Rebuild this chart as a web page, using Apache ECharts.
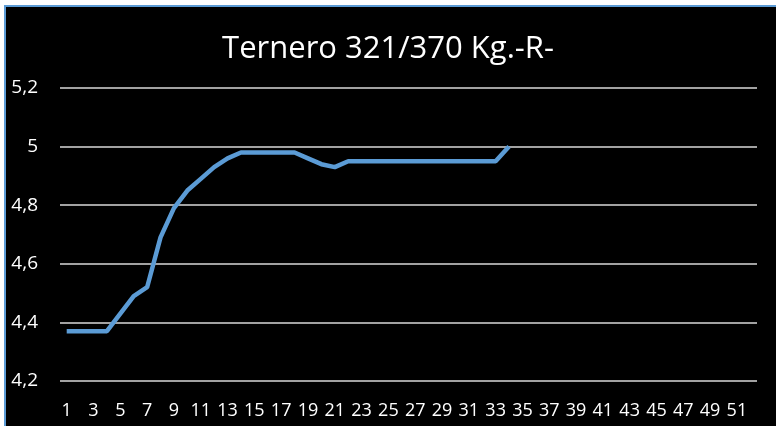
<!DOCTYPE html>
<html>
<head>
<meta charset="utf-8">
<script src="https://cdn.jsdelivr.net/npm/echarts@6/dist/echarts.min.js"></script>
<style>
  html, body { margin: 0; padding: 0; background: #fff; overflow: hidden; }
  #frame {
    position: absolute; left: 4px; top: 5px; width: 800px; height: 450px;
    border-top: 2px solid #5b9bd5; border-left: 2px solid #5b9bd5;
    background: #000;
  }
  #container { position: absolute; left: 0; top: 0; width: 776px; height: 426px; }
</style>
</head>
<body>
<div id="frame"></div>
<div id="container"></div>
<script>
// weeks 1..52
var weeks = [];
for (var i = 1; i <= 52; i++) weeks.push(String(i));

// precio por kg (weeks 1..34)
var prices = [4.37, 4.37, 4.37, 4.37, 4.43, 4.49, 4.52, 4.69, 4.79, 4.85,
  4.89, 4.93, 4.96, 4.98, 4.98, 4.98, 4.98, 4.98, 4.96, 4.94,
  4.93, 4.95, 4.95, 4.95, 4.95, 4.95, 4.95, 4.95, 4.95, 4.95,
  4.95, 4.95, 4.95, 5.0];

var yTicks = { min: 4.2, max: 5.2, step: 0.2 };

var dom = document.getElementById("container");
var myChart = echarts.init(dom);
var font = "'Open Sans', sans-serif";

var option = {
  backgroundColor: 'transparent',
  animation: false,
  title: {
    text: 'Ternero 321/370 Kg.-R-',
    left: 'center',
    top: 29,
    textStyle: { color: '#fff', fontSize: 31, fontWeight: 'normal', fontFamily: font }
  },
  grid: { left: 60, right: 19, top: 88, bottom: 45 },
  xAxis: {
    type: 'category',
    data: weeks,
    boundaryGap: true,
    axisLine: { show: false },
    axisTick: { show: false },
    axisLabel: { interval: 1, color: '#fff', fontSize: 18, fontFamily: font, margin: 21 }
  },
  yAxis: {
    type: 'value',
    min: yTicks.min,
    max: yTicks.max,
    interval: yTicks.step,
    axisLine: { show: false },
    axisTick: { show: false },
    splitLine: { lineStyle: { color: '#d9d9d9', width: 1.5 } },
    axisLabel: {
      color: '#fff', fontSize: 19, fontFamily: font, margin: 22,
      formatter: function (v) {
        return String(Math.round(v * 10) / 10).replace('.', ',');
      }
    }
  },
  series: [{
    type: 'line',
    data: prices,
    symbol: 'none',
    lineStyle: { color: '#5b9bd5', width: 4.5 },
    itemStyle: { color: '#5b9bd5' }
  }]
};

myChart.setOption(option);
</script>
</body>
</html>
